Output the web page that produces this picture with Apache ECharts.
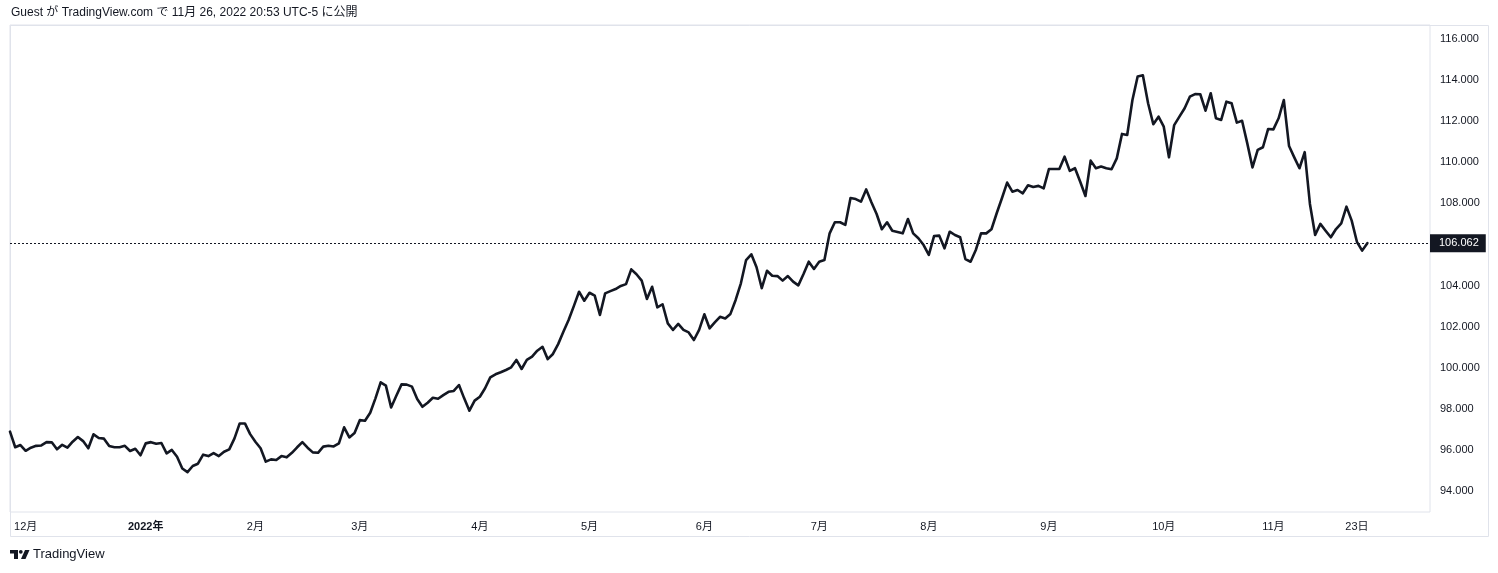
<!DOCTYPE html>
<html><head><meta charset="utf-8">
<script src="https://cdn.jsdelivr.net/npm/echarts@6/dist/echarts.min.js"></script>
<style>html,body{margin:0;padding:0;background:#fff}#c{width:1498px;height:573px}</style>
</head><body><div id="c"></div>
<script>
// ---- data ----
const startDate = '2021-11-26';      // first trading day shown
const futurePad = 12;                // empty trading days to the right of the last bar
const values = [
96.89,96.13,96.24,95.96,96.11,96.20,96.22,96.38,96.37,96.03,
96.25,96.11,96.40,96.63,96.43,96.08,96.76,96.58,96.55,96.19,
96.13,96.13,96.20,95.95,96.06,95.74,96.32,96.38,96.30,96.34,
95.83,96.00,95.67,95.10,94.92,95.22,95.33,95.77,95.70,95.85,
95.70,95.91,96.03,96.56,97.29,97.29,96.77,96.40,96.08,95.43,
95.54,95.51,95.70,95.64,95.86,96.13,96.38,96.11,95.88,95.86,
96.16,96.20,96.17,96.32,97.10,96.61,96.82,97.45,97.42,97.81,
98.51,99.29,99.13,98.07,98.64,99.19,99.18,99.08,98.48,98.10,
98.30,98.54,98.49,98.67,98.83,98.87,99.16,98.51,97.91,98.40,
98.59,99.00,99.53,99.68,99.78,99.89,100.02,100.38,99.94,100.38,
100.54,100.83,101.02,100.42,100.67,101.15,101.75,102.32,103.00,103.70,
103.26,103.65,103.51,102.57,103.62,103.73,103.83,103.98,104.07,104.79,
104.55,104.24,103.35,103.94,102.94,103.09,102.16,101.84,102.13,101.84,
101.72,101.35,101.84,102.60,101.92,102.21,102.48,102.40,102.62,103.30,
104.11,105.24,105.52,104.89,103.87,104.72,104.48,104.46,104.24,104.46,
104.19,104.01,104.56,105.16,104.81,105.16,105.24,106.54,107.08,107.08,
106.95,108.26,108.21,108.08,108.68,108.05,107.48,106.74,107.08,106.67,
106.61,106.54,107.24,106.54,106.30,105.97,105.49,106.41,106.43,105.81,
106.62,106.46,106.35,105.29,105.16,105.73,106.54,106.54,106.74,107.52,
108.25,109.01,108.57,108.65,108.49,108.88,108.80,108.85,108.73,109.67,
109.67,109.67,110.27,109.58,109.71,109.05,108.36,110.08,109.71,109.79,
109.71,109.66,110.19,111.38,111.33,113.03,114.17,114.23,112.87,111.85,
112.22,111.73,110.24,111.81,112.22,112.63,113.19,113.32,113.31,112.51,
113.36,112.14,112.06,112.95,112.87,111.93,112.02,110.92,109.75,110.60,
110.73,111.62,111.60,112.14,113.03,110.79,110.24,109.71,110.49,107.97,
106.46,107.00,106.67,106.35,106.75,107.03,107.84,107.16,106.13,105.70,
106.062
];
const tickDates  = ['2021-12-01','2022-01-03','2022-02-01','2022-03-01','2022-04-01','2022-05-02','2022-06-01','2022-07-01','2022-08-01','2022-09-01','2022-10-03','2022-11-01','2022-11-23'];
const tickLabels = ['12月','2022年','2月','3月','4月','5月','6月','7月','8月','9月','10月','11月','23日'];
const yTicks = [94,96,98,100,102,104,106,108,110,112,114,116];
const lastPrice = 106.062;
const headerText = 'Guest が TradingView.com で 11月 26, 2022 20:53 UTC-5 に公開';
const brandText = 'TradingView';

// ---- build trading-day categories ----
const dates = [];
{
  const d = new Date(startDate + 'T00:00:00Z');
  while (dates.length < values.length + futurePad) {
    const w = d.getUTCDay();
    if (w !== 0 && w !== 6) dates.push(d.toISOString().slice(0, 10));
    d.setUTCDate(d.getUTCDate() + 1);
  }
}
const seriesData = values.concat(new Array(futurePad).fill(null));

const FONT = '"Liberation Sans", Arial, "Noto Sans CJK JP", sans-serif';
const INK = '#131722';
const chart = echarts.init(document.getElementById('c'), null, {renderer: 'canvas'});
chart.setOption({
  animation: false,
  backgroundColor: '#ffffff',
  grid: {left: 10, right: 68, top: 25, bottom: 61, show: true, borderColor: '#e0e3eb', borderWidth: 1, backgroundColor: 'transparent'},
  xAxis: {
    type: 'category', data: dates, boundaryGap: false,
    axisLine: {show: false}, axisTick: {show: false}, splitLine: {show: false},
    axisLabel: {
      interval: (idx, val) => tickDates.indexOf(val) >= 0,
      formatter: (val) => {
        const i = tickDates.indexOf(val);
        if (i < 0) return '';
        return tickLabels[i].indexOf('年') >= 0 ? '{b|' + tickLabels[i] + '}' : tickLabels[i];
      },
      rich: {b: {fontWeight: 'bold', fontSize: 11, fontFamily: FONT, color: INK}},
      color: INK, fontSize: 11, fontFamily: FONT, margin: 9
    }
  },
  yAxis: {
    type: 'value', position: 'right', min: 92.98, max: 116.68, scale: true,
    axisLine: {show: false}, axisTick: {show: false}, splitLine: {show: false},
    axisLabel: {customValues: yTicks, formatter: (v) => v.toFixed(3), color: INK, fontSize: 11, fontFamily: FONT, margin: 10}
  },
  series: [{
    type: 'line', data: seriesData, showSymbol: false, symbol: 'none', connectNulls: false,
    lineStyle: {color: INK, width: 2.6, join: 'round', cap: 'round'},
    silent: true,
    markLine: {
      silent: true, symbol: ['none', 'none'], animation: false,
      lineStyle: {type: [2, 2], color: INK, width: 1},
      label: {show: true, position: 'end', distance: 0, formatter: lastPrice.toFixed(3),
        backgroundColor: INK, color: '#ffffff', padding: [4, 7, 3, 9], fontSize: 11, fontFamily: FONT},
      data: [{yAxis: lastPrice}]
    }
  }],
  graphic: [
    {type: 'text', left: 11, top: 7, style: {text: headerText, fill: INK, font: '12px ' + FONT}},
    {type: 'rect', shape: {x: 10.5, y: 25.5, width: 1478, height: 511}, style: {fill: 'none', stroke: '#e0e3eb', lineWidth: 1}},
    // TradingView logo
    {type: 'polygon', shape: {points: [[10,550],[18,550],[18,559],[14,559],[14,553.5],[10,553.5]]}, style: {fill: INK}},
    {type: 'circle', shape: {cx: 20.8, cy: 551.8, r: 1.9}, style: {fill: INK}},
    {type: 'polygon', shape: {points: [[25,550],[29.5,550],[25.5,559],[21,559]]}, style: {fill: INK}},
    {type: 'text', left: 33, top: 548, style: {text: brandText, fill: INK, font: '13px ' + FONT}}
  ]
});
</script></body></html>
